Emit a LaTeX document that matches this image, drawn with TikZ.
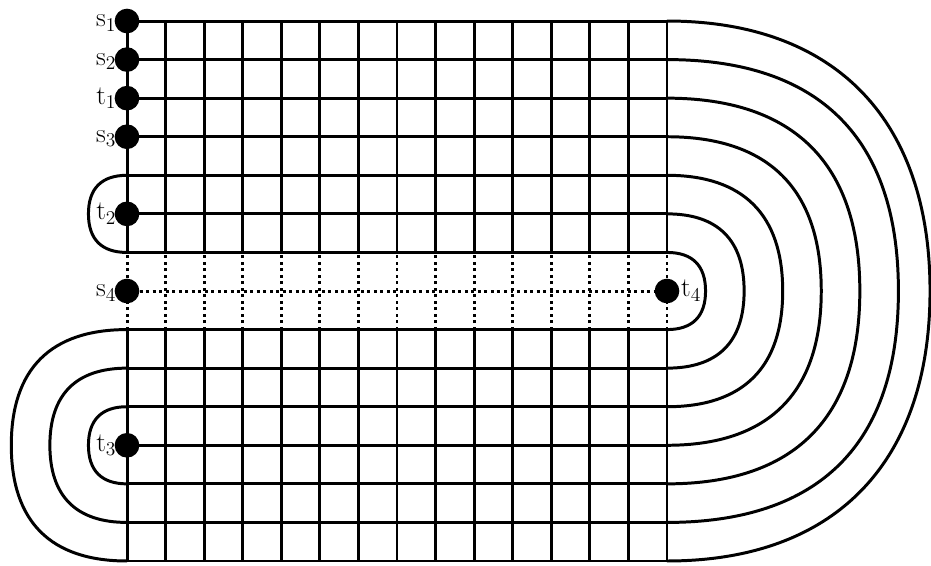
\documentclass[tikz,border=0pt]{standalone}
\begin{document}
\begin{tikzpicture}[x=1cm,y=1cm,
  gridline/.style={line width=2.2pt},
  dotline/.style={line width=2.2pt, dash pattern=on 2.2pt off 2.6pt},
  loop/.style={line width=2.2pt},
  dot/.style={circle, fill=black, inner sep=0pt, minimum size=0.64cm},
  lbl/.style={font=\fontsize{20}{24}\selectfont, inner sep=0pt},
  lleft/.style={label={[lbl, anchor=base east, xshift=1.5pt, yshift=-4.4pt]left:#1}},
  lright/.style={label={[lbl, anchor=base west, xshift=1pt, yshift=-4.4pt]right:#1}}
]
\useasboundingbox (-3.293,-0.104) rectangle (20.845,14.545);
% vertical grid lines
\foreach \i in {0,...,14} {
  \draw[gridline] (\i,0) -- (\i,6);
  \draw[gridline] (\i,8) -- (\i,14);
  \draw[dotline] (\i,6) -- (\i,8);
}
% horizontal grid lines
\foreach \j in {0,...,6,8,9,10,11,12,13,14} {
  \draw[gridline] (0,\j) -- (14,\j);
}
% right loops
\foreach \r in {1,...,6} {
  \pgfmathsetmacro\c{0.66*\r}
  \draw[loop] (14,7+\r) .. controls (14+\c,7+\r) and (14+\r,7+\c) .. (14+\r,7)
              .. controls (14+\r,7-\c) and (14+\c,7-\r) .. (14,7-\r);
}
\draw[loop] (14,14) .. controls (18.4,14) and (20.82,11.4) .. (20.82,7)
            .. controls (20.82,2.6) and (18.4,0) .. (14,0);
% left loops
\draw[loop] (0,10) .. controls (-0.66,10) and (-1,9.66) .. (-1,9)
            .. controls (-1,8.34) and (-0.66,8) .. (0,8);
\foreach \r in {1,2,3} {
  \pgfmathsetmacro\c{0.66*\r}
  \draw[loop] (0,3+\r) .. controls (-\c,3+\r) and (-\r,3+\c) .. (-\r,3)
              .. controls (-\r,3-\c) and (-\c,3-\r) .. (0,3-\r);
}
% terminals
\node[dot, lleft={s$_1$}] (s1) at (0,14) {};
\node[dot, lleft={s$_2$}] (s2) at (0,13) {};
\node[dot, lleft={t$_1$}] (t1) at (0,12) {};
\node[dot, lleft={s$_3$}] (s3) at (0,11) {};
\node[dot, lleft={t$_2$}] (t2) at (0,9) {};
\node[dot, lleft={s$_4$}] (s4) at (0,7) {};
\node[dot, lleft={t$_3$}] (t3) at (0,3) {};
\node[dot, lright={t$_4$}] (t4) at (14,7) {};
\draw[dotline] (s4) -- (t4);
\end{tikzpicture}
\end{document}
